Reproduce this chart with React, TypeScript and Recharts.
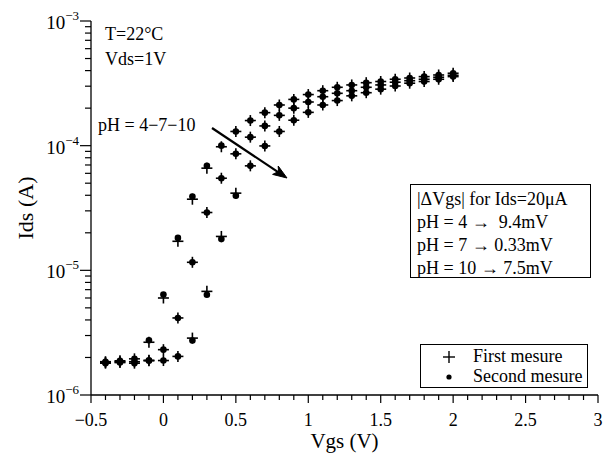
import React from 'react';
import { ScatterChart, Scatter, XAxis, YAxis, Legend } from 'recharts';

// gate voltage (V)
const vgs = [-0.4, -0.3, -0.2, -0.1, 0, 0.1, 0.2, 0.3, 0.4, 0.5, 0.6, 0.7, 0.8, 0.9, 1.0,
  1.1, 1.2, 1.3, 1.4, 1.5, 1.6, 1.7, 1.8, 1.9, 2.0];

// Ids (A), first measurement
const ph4First = [1.85e-6, 1.88e-6, 1.95e-6, 2.65e-6, 6.0e-6, 1.71e-5, 3.72e-5, 6.6e-5, 9.8e-5, 1.3e-4,
  1.59e-4, 1.84e-4, 2.12e-4, 2.35e-4, 2.57e-4, 2.76e-4, 2.94e-4, 3.07e-4, 3.2e-4, 3.27e-4,
  3.41e-4, 3.49e-4, 3.58e-4, 3.69e-4, 3.81e-4];
const ph7First = [1.82e-6, 1.85e-6, 1.85e-6, 1.9e-6, 2.31e-6, 4.15e-6, 1.16e-5, 2.91e-5, 5.48e-5, 8.6e-5,
  1.17e-4, 1.44e-4, 1.75e-4, 2.0e-4, 2.24e-4, 2.47e-4, 2.63e-4, 2.76e-4, 2.94e-4, 3.07e-4,
  3.23e-4, 3.32e-4, 3.41e-4, 3.54e-4, 3.67e-4];
const ph10First = [1.8e-6, 1.82e-6, 1.8e-6, 1.88e-6, 1.89e-6, 2.04e-6, 2.86e-6, 6.78e-6, 1.87e-5, 4.16e-5,
  6.89e-5, 9.95e-5, 1.3e-4, 1.6e-4, 1.85e-4, 2.12e-4, 2.3e-4, 2.51e-4, 2.66e-4, 2.84e-4,
  3.01e-4, 3.17e-4, 3.27e-4, 3.41e-4, 3.58e-4];

// Ids (A), second measurement
const ph4Second = [1.85e-6, 1.88e-6, 1.95e-6, 2.75e-6, 6.4e-6, 1.82e-5, 3.91e-5, 6.9e-5, 1.0e-4, 1.3e-4,
  1.59e-4, 1.84e-4, 2.12e-4, 2.35e-4, 2.57e-4, 2.76e-4, 2.94e-4, 3.07e-4, 3.2e-4, 3.27e-4,
  3.41e-4, 3.49e-4, 3.58e-4, 3.69e-4, 3.81e-4];
const ph7Second = [1.82e-6, 1.85e-6, 1.85e-6, 1.9e-6, 2.31e-6, 4.15e-6, 1.16e-5, 2.91e-5, 5.48e-5, 8.6e-5,
  1.17e-4, 1.44e-4, 1.75e-4, 2.0e-4, 2.24e-4, 2.47e-4, 2.63e-4, 2.76e-4, 2.94e-4, 3.07e-4,
  3.23e-4, 3.32e-4, 3.41e-4, 3.54e-4, 3.67e-4];
const ph10Second = [1.8e-6, 1.82e-6, 1.8e-6, 1.88e-6, 1.89e-6, 2.04e-6, 2.74e-6, 6.37e-6, 1.78e-5, 3.96e-5,
  6.89e-5, 9.95e-5, 1.3e-4, 1.6e-4, 1.85e-4, 2.12e-4, 2.3e-4, 2.51e-4, 2.66e-4, 2.84e-4,
  3.01e-4, 3.17e-4, 3.27e-4, 3.41e-4, 3.58e-4];

const xTicks = [-0.5, -0.4, -0.3, -0.2, -0.1, 0, 0.1, 0.2, 0.3, 0.4, 0.5, 0.6, 0.7, 0.8, 0.9, 1.0,
  1.1, 1.2, 1.3, 1.4, 1.5, 1.6, 1.7, 1.8, 1.9, 2.0, 2.1, 2.2, 2.3, 2.4, 2.5, 2.6, 2.7, 2.8, 2.9, 3.0];
const xMajor = [-0.5, 0, 0.5, 1, 1.5, 2, 2.5, 3];
const yMajor = [1e-6, 1e-5, 1e-4, 1e-3];
const yMinor = [2, 3, 4, 5, 6, 7, 8, 9];
const yTicks = [...yMajor, ...[1e-6, 1e-5, 1e-4].flatMap((d) => yMinor.map((m) => m * d))];

const FONT = '"Liberation Serif", "Times New Roman", serif';

const toPoints = (vals: number[]) => vgs.map((x, i) => ({ x, y: vals[i] }));

const PlusShape = (props: any) => {
  const { cx, cy } = props;
  if (cx == null || cy == null) return null;
  return (
    <g stroke="#000" strokeWidth={1.6}>
      <line x1={cx - 5.5} y1={cy} x2={cx + 5.5} y2={cy} />
      <line x1={cx} y1={cy - 5.5} x2={cx} y2={cy + 5.5} />
    </g>
  );
};

const DotShape = (props: any) => {
  const { cx, cy } = props;
  if (cx == null || cy == null) return null;
  return <circle cx={cx} cy={cy} r={3.3} fill="#000" />;
};

const isMajorX = (v: number) => xMajor.some((m) => Math.abs(m - v) < 1e-9);
const fmtX = (v: number) => (v < 0 ? '\u2212' + String(Math.abs(v)) : String(v));

const XTick = (props: any) => {
  const { x, y, payload } = props;
  const major = isMajorX(payload.value);
  return (
    <g>
      <line x1={x} y1={y} x2={x} y2={y + (major ? 8 : 5)} stroke="#000" strokeWidth={1.2} />
      {major && (
        <text x={x} y={y + 31} textAnchor="middle" fontFamily={FONT} fontSize={18} fill="#000">
          {fmtX(payload.value)}
        </text>
      )}
    </g>
  );
};

const YTick = (props: any) => {
  const { x, y, payload } = props;
  const major = yMajor.some((m) => Math.abs(m - payload.value) / m < 1e-6);
  const exp = Math.round(Math.log10(payload.value));
  return (
    <g>
      <line x1={x - (major ? 11 : 6)} y1={y} x2={x} y2={y} stroke="#000" strokeWidth={1.2} />
      {major && (
        <text x={x - 12} y={y + 8} textAnchor="end" fontFamily={FONT} fontSize={19} fill="#000">
          10<tspan dy={-9} fontSize={13}>{'\u2212' + Math.abs(exp)}</tspan>
        </text>
      )}
    </g>
  );
};

const YTitle = (props: any) => {
  const vb = props.viewBox || {};
  const cx = (vb.x || 0) + 25;
  const cy = (vb.y || 0) + (vb.height || 0) / 2;
  return (
    <text x={cx} y={cy} transform={`rotate(-90 ${cx} ${cy})`} textAnchor="middle"
      dominantBaseline="central" fontFamily={FONT} fontSize={22} fill="#000">
      Ids (A)
    </text>
  );
};

const XTitle = (props: any) => {
  const vb = props.viewBox || {};
  return (
    <text x={(vb.x || 0) + (vb.width || 0) / 2} y={(vb.y || 0) + 53} textAnchor="middle"
      fontFamily={FONT} fontSize={21} fill="#000">
      Vgs (V)
    </text>
  );
};

const LegendBox = () => (
  <div style={{ border: '1px solid #000', width: 168, height: 44, boxSizing: 'border-box',
    fontFamily: FONT, fontSize: 18, color: '#000', background: '#fff', position: 'relative' }}>
    <svg width={20} height={40} style={{ position: 'absolute', left: 18, top: 1 }}>
      <line x1={4} y1={11} x2={16} y2={11} stroke="#000" strokeWidth={1.4} />
      <line x1={10} y1={5} x2={10} y2={17} stroke="#000" strokeWidth={1.4} />
      <circle cx={10} cy={31} r={2.6} fill="#000" />
    </svg>
    <div style={{ position: 'absolute', left: 52, top: 1, lineHeight: '20px', whiteSpace: 'nowrap' }}>
      First mesure
    </div>
    <div style={{ position: 'absolute', left: 52, top: 21, lineHeight: '20px', whiteSpace: 'nowrap' }}>
      Second mesure
    </div>
  </div>
);

const Overlay = () => (
  <svg width={611} height={453} style={{ position: 'absolute', left: 0, top: 0, pointerEvents: 'none' }}
    fontFamily={FONT} fontSize={18} fill="#000">
    <text x={105} y={40}>T=22°C</text>
    <text x={105} y={65}>Vds=1V</text>
    <text x={98} y={131}>pH = 4{'\u2212'}7{'\u2212'}10</text>
    <line x1={212} y1={128} x2={280} y2={173.3} stroke="#000" strokeWidth={2.2} />
    <polygon points="287,178 272.6,174.4 278.5,171.4 278.2,166.0" fill="#000" stroke="#000" strokeWidth={1} />
    <rect x={410.5} y={184.5} width={180} height={93} fill="#fff" stroke="#000" strokeWidth={1} />
    <text x={417} y={205}>|ΔVgs| for Ids=20μA</text>
    <text x={417} y={228} xmlSpace="preserve">pH = 4 {'\u2192'}  9.4mV</text>
    <text x={417} y={251}>pH = 7 {'\u2192'} 0.33mV</text>
    <text x={417} y={274}>pH = 10 {'\u2192'} 7.5mV</text>
  </svg>
);

export default function App() {
  return (
    <div style={{ position: 'absolute', left: 0, top: 0, width: 611, height: 453, background: '#fff' }}>
      <ScatterChart width={611} height={453} margin={{ top: 21, right: 13, bottom: 0, left: 0 }}>
        <XAxis
          dataKey="x"
          type="number"
          domain={[-0.5, 3]}
          ticks={xTicks}
          interval={0}
          tickLine={false}
          tickSize={0}
          tickMargin={0}
          tick={<XTick />}
          height={58}
          axisLine={{ stroke: '#000', strokeWidth: 1.3 }}
          label={<XTitle />}
          allowDataOverflow
        />
        <YAxis
          dataKey="y"
          type="number"
          scale="log"
          domain={[1e-6, 1e-3]}
          ticks={yTicks}
          interval={0}
          tickLine={false}
          tickSize={0}
          tickMargin={0}
          tick={<YTick />}
          width={91}
          axisLine={{ stroke: '#000', strokeWidth: 1.3 }}
          label={<YTitle />}
          allowDataOverflow
        />
        <Legend
          layout="vertical"
          align="center"
          verticalAlign="middle"
          content={<LegendBox />}
          wrapperStyle={{ left: 420, top: 344, width: 170 }}
        />
        <Scatter name="pH 4 first" data={toPoints(ph4First)} shape={PlusShape} isAnimationActive={false} />
        <Scatter name="pH 4 second" data={toPoints(ph4Second)} shape={DotShape} isAnimationActive={false} />
        <Scatter name="pH 7 first" data={toPoints(ph7First)} shape={PlusShape} isAnimationActive={false} />
        <Scatter name="pH 7 second" data={toPoints(ph7Second)} shape={DotShape} isAnimationActive={false} />
        <Scatter name="pH 10 first" data={toPoints(ph10First)} shape={PlusShape} isAnimationActive={false} />
        <Scatter name="pH 10 second" data={toPoints(ph10Second)} shape={DotShape} isAnimationActive={false} />
      </ScatterChart>
      <Overlay />
    </div>
  );
}
